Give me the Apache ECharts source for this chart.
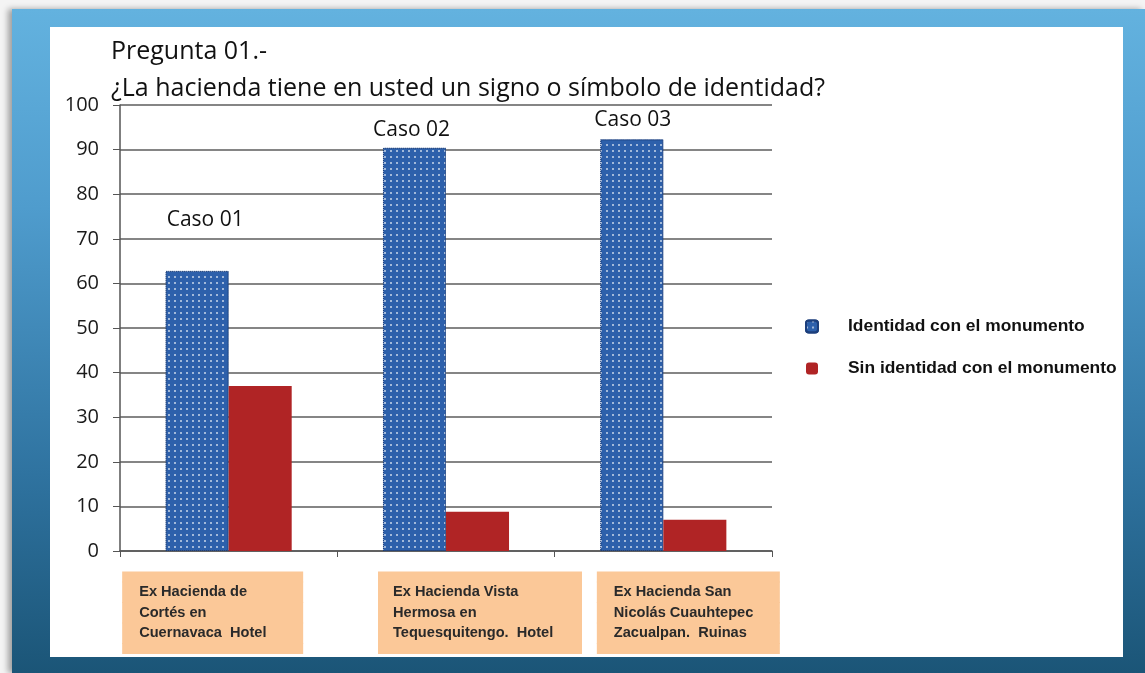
<!DOCTYPE html>
<html>
<head>
<meta charset="utf-8">
<script src="https://cdn.jsdelivr.net/npm/echarts@6/dist/echarts.min.js"></script>
<style>
html,body{margin:0;padding:0;width:1145px;height:673px;overflow:hidden;background:#f4f4f4;}
#frame{position:absolute;left:12px;top:9px;width:1133px;height:664px;
  background:linear-gradient(to bottom,#63b2df 0%,#4f9ccd 30%,#2f73a0 70%,#1b5577 100%);
  box-shadow:-4px 0 6px rgba(0,0,0,0.35);}
#panel{position:absolute;left:50px;top:27px;width:1073px;height:630px;background:#fff;}
#chart{position:absolute;left:0;top:0;width:1145px;height:673px;}
</style>
</head>
<body>
<div id="frame"></div>
<div id="panel"></div>
<div id="chart"></div>
<script>
const categories = [
  "Ex Hacienda de\nCortés en\nCuernavaca  Hotel",
  "Ex Hacienda Vista\nHermosa en\nTequesquitengo.  Hotel",
  "Ex Hacienda San\nNicolás Cuauhtepec\nZacualpan.  Ruinas"
];
const caseLabels = ["Caso 01", "Caso 02", "Caso 03"];
const identidad = [62.8, 90.4, 92.3];
const sinIdentidad = [37, 8.8, 7];
const seriesNames = ["Identidad con el monumento", "Sin identidad con el monumento"];
const yTicks = [0, 10, 20, 30, 40, 50, 60, 70, 80, 90, 100];

// layout-only settings
const caseDistances = [40, 7.5, 8.5];
const caseOffsets = [[8, 0], [-3, 0], [1, 0]];
const boxShift = [-16, 34, 25];
const boxWidth = [181, 204, 183];
const boxPadLeft = [17, 15, 17];
const boxColor = '#fbc898';

const rich = {};
boxWidth.forEach((w, i) => {
  rich['s' + i] = {width: Math.abs(boxShift[i]) * 2, height: 1, lineHeight: 1, fontSize: 1, align: 'left'};
  rich['p' + i] = {width: w, height: 11, lineHeight: 10, fontSize: 1, align: 'left', backgroundColor: boxColor};
  rich['t' + i] = {width: w - boxPadLeft[i], padding: [0, 0, 0, boxPadLeft[i]], height: 21.5, lineHeight: 20.5, align: 'left',
    backgroundColor: boxColor, fontFamily: 'Liberation Sans', fontWeight: 'bold', fontSize: 14.6, color: '#2a2a2a'};
});

const chart = echarts.init(document.getElementById('chart'), null, {renderer: 'canvas'});
chart.setOption({
  backgroundColor: 'transparent',
  animation: false,
  title: {
    text: "Pregunta 01.-\n¿La hacienda tiene en usted un signo o símbolo de identidad?",
    left: 106, top: 28,
    textStyle: {fontFamily: 'Open Sans', fontSize: 25, fontWeight: 'normal', color: '#111', lineHeight: 37}
  },
  legend: {
    orient: 'vertical', left: 800, top: 313, itemGap: 25,
    itemWidth: 12, itemHeight: 12,
    data: seriesNames,
    textStyle: {fontFamily: 'Liberation Sans', fontWeight: 'bold', fontSize: 17.4, color: '#111', padding: [0, 0, 0, 25]}
  },
  grid: {left: 120, right: 373, top: 105, bottom: 122, containLabel: false},
  xAxis: {
    type: 'category', data: categories,
    axisLine: {lineStyle: {color: '#555', width: 1.5}},
    axisTick: {show: true, length: 6, lineStyle: {color: '#555'}},
    axisLabel: {
      interval: 0, margin: 21,
      formatter: (v, i) => {
        const sp = '{s' + i + '| }';
        const left = boxShift[i] > 0 ? sp : '';
        const right = boxShift[i] < 0 ? sp : '';
        const lines = ['{p' + i + '| }'].concat(v.split('\n').map(l => '{t' + i + '|' + l + '}'), ['{p' + i + '| }']);
        return lines.map(l => left + l + right).join('\n');
      },
      rich: rich
    }
  },
  yAxis: {
    type: 'value', min: yTicks[0], max: yTicks[yTicks.length - 1], interval: yTicks[1] - yTicks[0],
    axisLine: {show: true, lineStyle: {color: '#555', width: 1.5}},
    axisTick: {show: true, length: 7, lineStyle: {color: '#555'}},
    axisLabel: {margin: 21, fontFamily: 'Open Sans', fontSize: 20, color: '#1a1a1a'},
    splitLine: {lineStyle: {color: '#858585', width: 2}}
  },
  series: [
    {
      name: seriesNames[0], type: 'bar', barGap: '0%', barCategoryGap: '42%',
      data: identidad.map((v, i) => ({
        value: v,
        label: {show: true, position: 'top', distance: caseDistances[i], offset: caseOffsets[i], formatter: caseLabels[i],
          fontFamily: 'Open Sans', fontSize: 21, color: '#111'}
      })),
      itemStyle: {
        color: '#2d60ab', borderColor: '#1c3f7c', borderWidth: 1, borderType: 'dotted',
        decal: {symbol: 'circle', symbolSize: 1, dashArrayX: [1.8, 3.6], dashArrayY: [1.8, 3.6], color: 'rgba(255,255,255,0.75)'}
      }
    },
    {
      name: seriesNames[1], type: 'bar',
      data: sinIdentidad,
      itemStyle: {color: '#b02425'}
    }
  ]
});
</script>
</body>
</html>
